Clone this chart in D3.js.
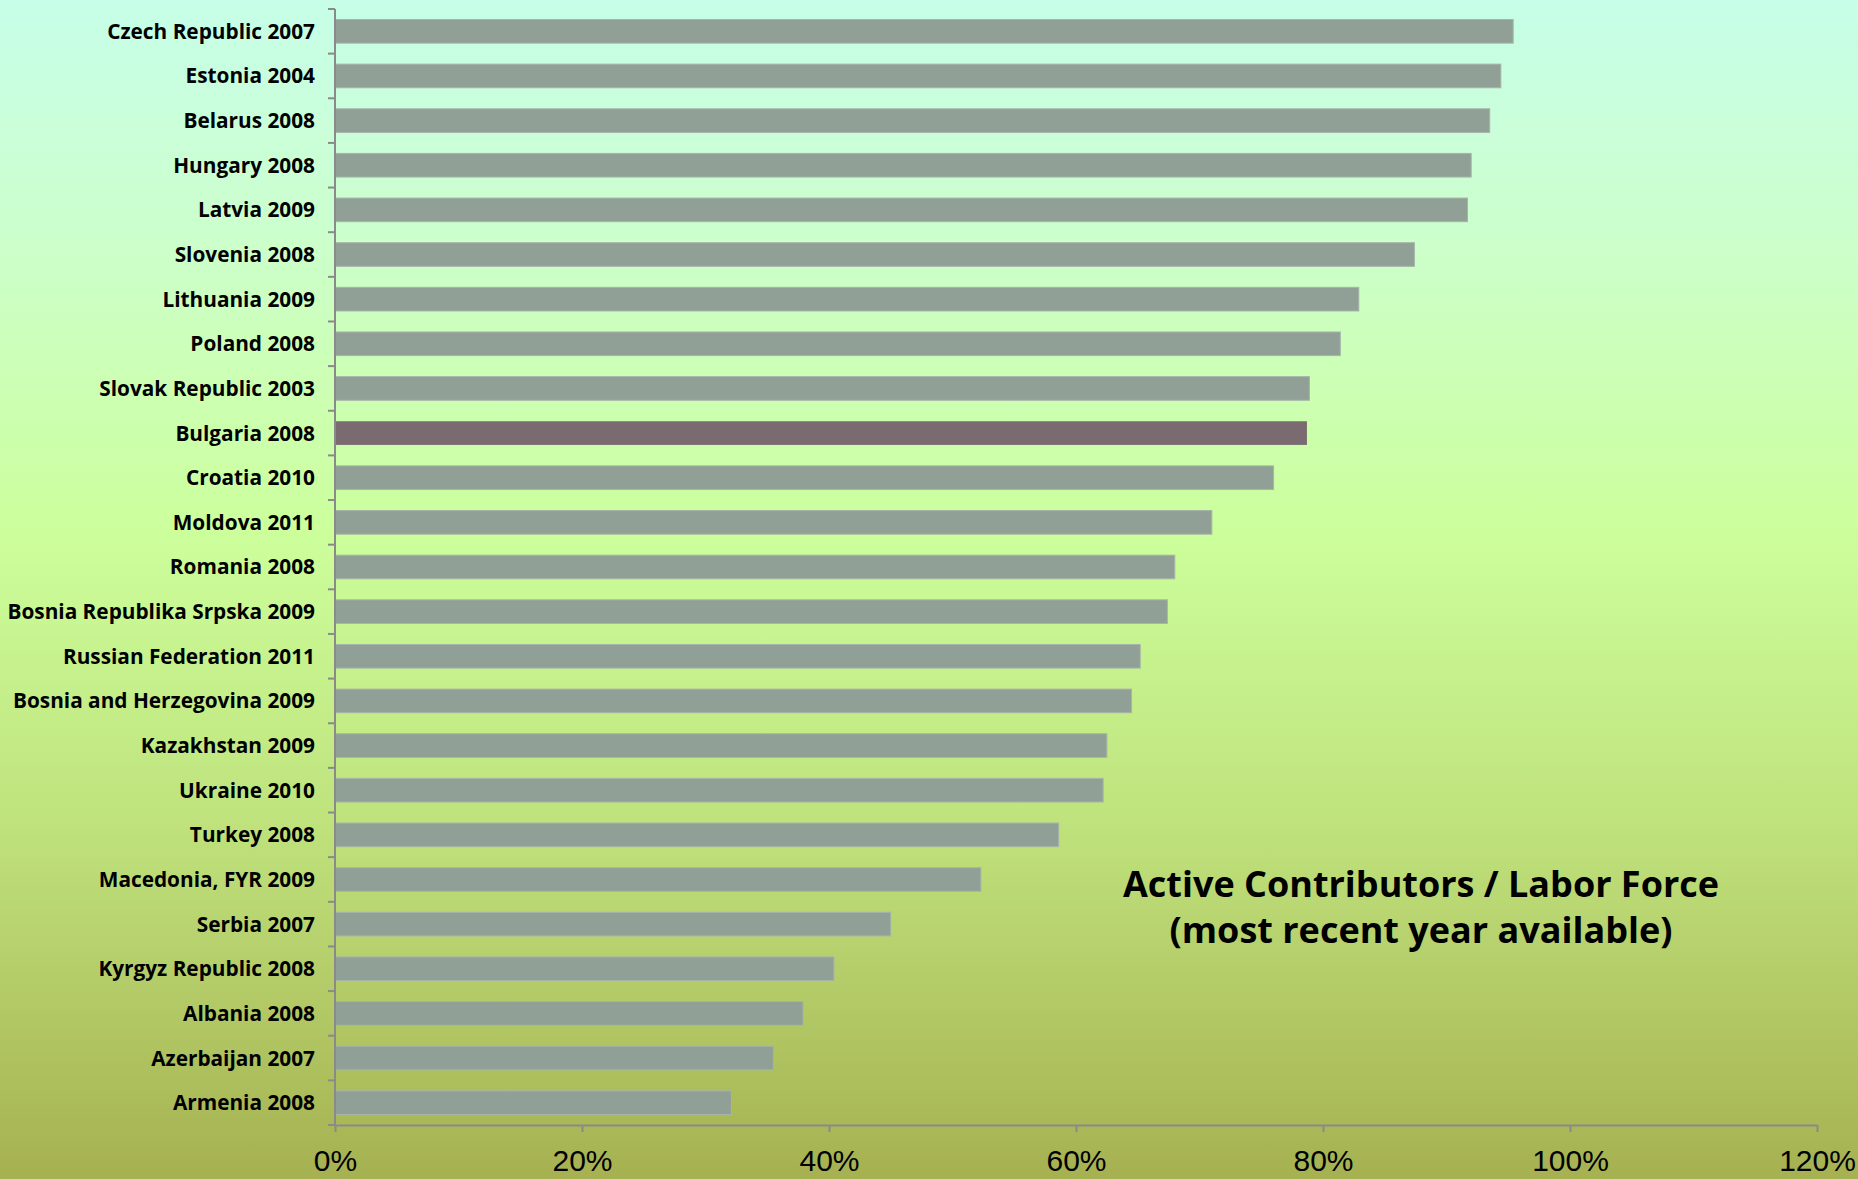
<!DOCTYPE html>
<html>
<head>
<meta charset="utf-8">
<script src="https://cdn.jsdelivr.net/npm/d3@7"></script>
<style>
  html, body { margin: 0; padding: 0; }
  body { width: 1858px; height: 1179px; overflow: hidden; }
  svg { display: block; }
</style>
</head>
<body>
<svg id="chart" width="1858" height="1179"></svg>
<script>
// Active contributors as a share of the labor force, most recent year available
const countries = [
  "Czech Republic 2007", "Estonia 2004", "Belarus 2008", "Hungary 2008", "Latvia 2009",
  "Slovenia 2008", "Lithuania 2009", "Poland 2008", "Slovak Republic 2003", "Bulgaria 2008",
  "Croatia 2010", "Moldova 2011", "Romania 2008", "Bosnia Republika Srpska 2009",
  "Russian Federation 2011", "Bosnia and Herzegovina 2009", "Kazakhstan 2009", "Ukraine 2010",
  "Turkey 2008", "Macedonia, FYR 2009", "Serbia 2007", "Kyrgyz Republic 2008",
  "Albania 2008", "Azerbaijan 2007", "Armenia 2008"
];
const shares = [
  0.954, 0.944, 0.935, 0.920, 0.917,
  0.874, 0.829, 0.814, 0.789, 0.787,
  0.760, 0.710, 0.680, 0.674,
  0.652, 0.645, 0.625, 0.622,
  0.586, 0.523, 0.450, 0.404,
  0.379, 0.355, 0.321
];
const highlighted = ["Bulgaria 2008"];
const xTicks = [0, 0.2, 0.4, 0.6, 0.8, 1.0, 1.2];
const titleLines = ["Active Contributors / Labor Force", "(most recent year available)"];

const rows = countries.map((c, i) => ({ name: c, value: shares[i] }));

const svg = d3.select("#chart");
const W = 1858, H = 1179;
const plot = { left: 335, right: 1817, top: 9, bottom: 1125 };

// background gradient: mint at the top, lime in the middle, olive at the bottom
const defs = svg.append("defs");
const grad = defs.append("linearGradient")
  .attr("id", "bg").attr("x1", 0).attr("y1", 0).attr("x2", 0).attr("y2", 1);
[
  [0.00, "#c6fee8"],
  [0.20, "#ccffcc"],
  [0.45, "#ccff9c"],
  [0.70, "#bfe27c"],
  [1.00, "#a6b151"]
].forEach(([o, c]) => grad.append("stop").attr("offset", o).attr("stop-color", c));
svg.append("rect").attr("width", W).attr("height", H).attr("fill", "url(#bg)");

const x = d3.scaleLinear().domain([0, 1.2]).range([plot.left, plot.right]);
const pad = 0.47;
const y = d3.scaleBand()
  .domain(countries)
  .range([plot.top, plot.bottom])
  .paddingInner(pad)
  .paddingOuter(pad / 2);

// bars
svg.append("g").selectAll("rect")
  .data(rows)
  .join("rect")
  .attr("x", x(0))
  .attr("y", d => y(d.name))
  .attr("width", d => x(d.value) - x(0))
  .attr("height", y.bandwidth())
  .attr("fill", d => highlighted.includes(d.name) ? "#7a6b70" : "#91a096")
  .attr("stroke", d => highlighted.includes(d.name) ? "none" : "#a7b5a9")
  .attr("stroke-width", 1);

const axisColor = "#8a8a8a";

// category axis: vertical line with ticks at band boundaries
const yAxis = svg.append("g");
yAxis.append("line")
  .attr("x1", x(0)).attr("x2", x(0))
  .attr("y1", plot.top).attr("y2", plot.bottom)
  .attr("stroke", axisColor).attr("stroke-width", 2);
const step = y.step();
const bounds = d3.range(countries.length + 1).map(i => y(countries[0]) - step * pad / 2 + i * step);
yAxis.selectAll("line.tick")
  .data(bounds)
  .join("line")
  .attr("class", "tick")
  .attr("x1", x(0) - 7).attr("x2", x(0))
  .attr("y1", d => d).attr("y2", d => d)
  .attr("stroke", axisColor).attr("stroke-width", 2);

// category labels
svg.append("g").selectAll("text")
  .data(rows)
  .join("text")
  .attr("x", x(0) - 20)
  .attr("y", d => y(d.name) + y.bandwidth() / 2)
  .attr("dy", "0.36em")
  .attr("text-anchor", "end")
  .attr("font-family", "'Open Sans', 'DejaVu Sans', sans-serif")
  .attr("font-weight", 700)
  .attr("font-size", 20.8)
  .attr("fill", "#000")
  .text(d => d.name);

// value axis
const xAxis = svg.append("g")
  .attr("transform", `translate(0,${plot.bottom})`)
  .call(d3.axisBottom(x).tickValues(xTicks).tickFormat(d3.format(".0%")).tickSize(7).tickSizeOuter(0).tickPadding(18));
xAxis.select(".domain").attr("stroke", axisColor).attr("stroke-width", 2);
xAxis.selectAll(".tick line").attr("stroke", axisColor).attr("stroke-width", 2);
xAxis.selectAll(".tick text")
  .attr("font-family", "'Liberation Sans Narrow', 'Liberation Sans', sans-serif")
  .attr("font-size", 30)
  .attr("fill", "#000");

// caption
const title = svg.append("text")
  .attr("text-anchor", "middle")
  .attr("font-family", "'Open Sans', 'DejaVu Sans', sans-serif")
  .attr("font-weight", 700)
  .attr("font-size", 36)
  .attr("fill", "#000");
titleLines.forEach((t, i) => {
  title.append("tspan").attr("x", 1421).attr("y", 897 + i * 46).text(t);
});
</script>
</body>
</html>
